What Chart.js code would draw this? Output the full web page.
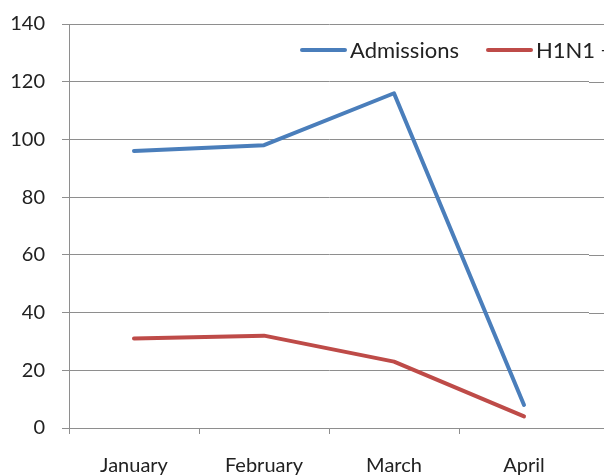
<!DOCTYPE html>
<html>
<head>
<meta charset="utf-8">
<script src="https://cdn.jsdelivr.net/npm/chart.js@4"></script>
<style>
  html, body { margin: 0; padding: 0; background: #fff; }
  #wrap { position: relative; width: 604px; height: 475px; overflow: hidden; }
  #legend { position: absolute; left: 300px; top: 36px; white-space: nowrap;
            font-family: Lato, sans-serif; font-size: 22px; color: #222; }
  #legend span.item { display: inline-block; margin-right: 27px; }
  #legend span.line { display: inline-block; width: 47px; height: 4px; border-radius: 2px;
                      vertical-align: middle; margin-right: 3px; position: relative; top: -2px; }
</style>
</head>
<body>
<div id="wrap">
  <canvas id="chartAku" width="604" height="500"></canvas>
  <div id="legend"></div>
</div>
<script>
let labels = ['January', 'February', 'March', 'April'];
let admissions = [96, 98, 116, 8];
let h1n1 = [31, 32, 23, 4];
let yTicks = [0, 20, 40, 60, 80, 100, 120, 140];

let seriesNames = ['Admissions', 'H1N1 +ve'];
let warna = ['#4a7ebb', '#be4b48'];
let abu = '#8e8e8e';

// gridlines in the picture run past the plot, all the way to the edge
let gridLebar = {
    id: 'gridLebar',
    beforeDatasetsDraw(chart) {
        let ctx = chart.ctx;
        let y = chart.scales.y;
        ctx.save();
        ctx.strokeStyle = abu;
        ctx.lineWidth = 1;
        y.ticks.forEach(function(t) {
            let py = Math.round(y.getPixelForValue(t.value)) + 0.5;
            ctx.beginPath();
            ctx.moveTo(chart.chartArea.right, py);
            ctx.lineTo(chart.width, py);
            ctx.stroke();
        });
        ctx.restore();
    }
};

let chart = new Chart(document.getElementById('chartAku'), {
    type: 'line',
    data: {
        labels: labels,
        datasets: [{
            label: seriesNames[0],
            data: admissions,
            borderColor: warna[0],
            backgroundColor: warna[0]
        }, {
            label: seriesNames[1],
            data: h1n1,
            borderColor: warna[1],
            backgroundColor: warna[1]
        }]
    },
    options: {
        responsive: false,
        animation: false,
        layout: { padding: { top: 24, right: 15, left: 0, bottom: 0 } },
        elements: {
            line: { borderWidth: 4, tension: 0, borderJoinStyle: 'round', borderCapStyle: 'round' },
            point: { radius: 0, hoverRadius: 0 }
        },
        plugins: {
            legend: { display: false },
            tooltip: { enabled: false }
        },
        scales: {
            x: {
                offset: true,
                grid: {
                    offset: true,
                    drawOnChartArea: false,
                    tickLength: 6,
                    // the far right end has no tick mark (its context is the scale, not a tick)
                    tickColor: c => c.type === 'tick' ? abu : 'rgba(0,0,0,0)'
                },
                border: { color: abu },
                ticks: { color: '#222', padding: 20, font: { family: 'Lato', size: 20 } },
                afterFit: function(s) { s.height = 72; }
            },
            y: {
                min: 0,
                max: 140,
                afterBuildTicks: function(s) { s.ticks = yTicks.map(v => ({ value: v })); },
                grid: { color: abu, tickLength: 7 },
                border: { color: abu },
                ticks: { color: '#222', padding: 17, font: { family: 'Lato', size: 20 } },
                afterFit: function(s) {
                    s.width = 69;
                    // tick padding otherwise pushes the top of the plot down
                    s.paddingTop = 0;
                    s.paddingBottom = 0;
                }
            }
        }
    },
    plugins: [gridLebar]
});

let legend = document.getElementById('legend');
seriesNames.forEach(function(nama, i) {
    legend.innerHTML += '<span class="item"><span class="line" style="background:' + warna[i] + '"></span>' + nama + '</span>';
});
</script>
</body>
</html>
